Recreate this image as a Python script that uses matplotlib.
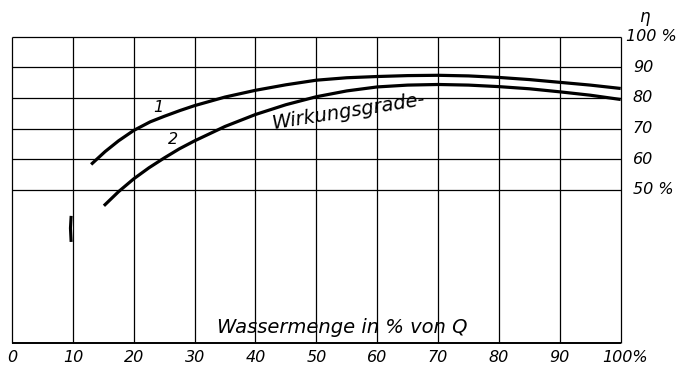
import matplotlib
matplotlib.use("Agg")
import matplotlib.pyplot as plt

# Wassermenge in % von Q (x) und Wirkungsgrad in % (y)
x_kurve1 = [13.0, 15.3, 17.5, 20, 22.7, 25, 27.6, 30, 35, 40, 45, 50, 55, 60, 65, 70, 75, 80, 85, 90, 95, 100]
eta_kurve1 = [58.3, 62.5, 66.0, 69.4, 72.2, 74.0, 75.9, 77.5, 80.3, 82.5, 84.3, 85.8, 86.6, 87.0, 87.3, 87.4, 87.2, 86.7, 86.0, 85.1, 84.2, 83.1]

x_kurve2 = [15.1, 17.5, 20, 22.5, 25, 27.5, 30, 35, 40, 45, 50, 55, 60, 65, 70, 75, 80, 85, 90, 95, 100]
eta_kurve2 = [44.8, 49.4, 53.6, 57.2, 60.4, 63.4, 66.0, 70.7, 74.6, 77.8, 80.4, 82.3, 83.6, 84.2, 84.4, 84.2, 83.7, 83.0, 82.0, 80.9, 79.5]

# kleiner Fleck auf der 10er-Linie
x_fleck = [9.7, 9.6, 9.7]
y_fleck = [33.5, 37.5, 41.0]

x_ticks = [0, 10, 20, 30, 40, 50, 60, 70, 80, 90, 100]
x_labels = ["0", "10", "20", "30", "40", "50", "60", "70", "80", "90", "100%"]
eta_ticks = [50, 60, 70, 80, 90, 100]
eta_labels = ["50 %", "60", "70", "80", "90", "100 %"]

font = dict(family="DejaVu Sans", style="italic", color="black")

fig = plt.figure(figsize=(6.8, 3.67), dpi=100)
ax = fig.add_axes([12 / 680, 1 - 343 / 367, (620.7 - 12) / 680, (343 - 36.7) / 367])
ax.set_xlim(0, 100)
ax.set_ylim(0, 100)
ax.axis("off")

# Raster
ax.vlines(x_ticks, 0, 100, color="black", lw=0.9, clip_on=False)
ax.hlines(eta_ticks, 0, 100, color="black", lw=0.9, clip_on=False)
ax.hlines([0], 0, 100, color="black", lw=1.4, clip_on=False)

# Kurven
ax.plot(x_kurve1, eta_kurve1, color="black", lw=2.3, solid_capstyle="butt", clip_on=False)
ax.plot(x_kurve2, eta_kurve2, color="black", lw=2.3, solid_capstyle="butt", clip_on=False)
ax.plot(x_fleck, y_fleck, color="black", lw=2.2)

ax.text(24.0, 76.8, "1", fontsize=11.5, ha="center", va="center", **font)
ax.text(26.4, 66.3, "2", fontsize=11.5, ha="center", va="center", **font)
ax.text(55.3, 75.6, "Wirkungsgrade-", fontsize=14, ha="center", va="center",
        rotation=9, rotation_mode="anchor", **font)
ax.text(33.6, 3.3, "Wassermenge in % von Q", fontsize=14, ha="left", va="baseline", **font)

# x-Beschriftung unten
for xt, lab in zip(x_ticks, x_labels):
    if lab.endswith("%"):
        ax.text(xt - 3.0, -4.7, lab, fontsize=11.5, ha="left", va="center", clip_on=False, **font)
    else:
        ax.text(xt, -4.7, lab, fontsize=11.5, ha="center", va="center", clip_on=False, **font)

# eta-Beschriftung rechts
for yt, lab in zip(eta_ticks, eta_labels):
    xpos = 100.8 if lab.startswith("100") else 102.0
    ax.text(xpos, yt, lab, fontsize=11.5, ha="left", va="center", clip_on=False, **font)
ax.text(103.8, 106.5, "η", fontsize=12, ha="center", va="center", clip_on=False, **font)

fig.savefig("out.png", dpi=100)
